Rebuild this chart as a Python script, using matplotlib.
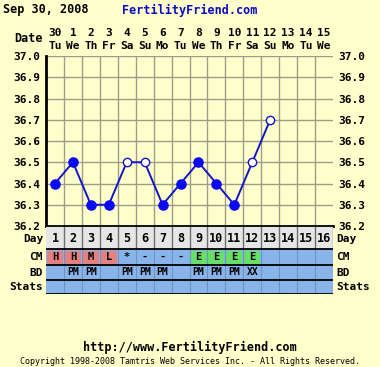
import matplotlib

matplotlib.use("Agg")
import matplotlib.pyplot as plt
from matplotlib.patches import Rectangle
from matplotlib.transforms import blended_transform_factory

plt.rcParams["font.family"] = ["DejaVu Sans Mono", "DejaVu Sans"]

W, H = 380, 367
BG = "#ffffcc"
BLUE_ROW = "#88b4ea"
GRID = "#a09c8c"
FS = 8

# chart data
days = list(range(1, 17))
dates = ["30", "1", "2", "3", "4", "5", "6", "7", "8", "9", "10", "11", "12", "13", "14", "15"]
weekdays = ["Tu", "We", "Th", "Fr", "Sa", "Su", "Mo", "Tu", "We", "Th", "Fr", "Sa", "Su", "Mo", "Tu", "We"]
temp_days = [1, 2, 3, 4, 5, 6, 7, 8, 9, 10, 11, 12, 13]
temps = [36.4, 36.5, 36.3, 36.3, 36.5, 36.5, 36.3, 36.4, 36.5, 36.4, 36.3, 36.5, 36.7]
open_marker = [False, False, False, False, True, True, False, False, False, False, False, True, True]
cm = ["H", "H", "M", "L", "*", "-", "-", "-", "E", "E", "E", "E", "", "", "", ""]
bd = ["", "PM", "PM", "", "PM", "PM", "PM", "", "PM", "PM", "PM", "XX", "", "", "", ""]
yticks = [36.2, 36.3, 36.4, 36.5, 36.6, 36.7, 36.8, 36.9, 37.0]

CM_COLORS = {"H": "#e48080", "M": "#e48080", "L": "#e48080", "E": "#66e066"}


def fx(px):
    return px / W


def fy(py):
    return 1 - py / H


fig = plt.figure(figsize=(W / 100, H / 100), dpi=100)
fig.patch.set_facecolor(BG)

# ---- temperature chart ----
ax = fig.add_axes([fx(46), fy(226), 287 / W, 170 / H])
ax.set_facecolor(BG)
ax.set_xlim(0.5, 16.5)
ax.set_ylim(36.2, 37.0)
for x in range(1, 16):
    ax.axvline(x + 0.5, color=GRID, lw=1, zorder=1)
for y in yticks[1:]:
    ax.axhline(y, color=GRID, lw=1, zorder=1)

ax.plot(temp_days, temps, color="#1414c8", lw=1.4, zorder=3)
for d, t, o in zip(temp_days, temps, open_marker):
    if o:
        ax.plot(d, t, "o", ms=6, mfc="white", mec="#1414c8", mew=1.0, zorder=4)
    else:
        ax.plot(d, t, "o", ms=6.6, mfc="#0a0af0", mec="#0a0af0", zorder=4)

ax.set_xticks([])
ax.set_yticks(yticks)
ax.set_yticklabels([f"{v:.1f}" for v in yticks])
ax.tick_params(axis="y", length=0, pad=4, labelsize=FS, labelleft=True, labelright=True)
for lab in ax.get_yticklabels():
    lab.set_fontweight("bold")
ax.spines["left"].set_color("black")
ax.spines["left"].set_linewidth(2)
ax.spines["bottom"].set_color("black")
ax.spines["bottom"].set_linewidth(2)
ax.spines["top"].set_visible(False)
ax.spines["right"].set_visible(False)

# header dates
tr = blended_transform_factory(ax.transData, fig.transFigure)
for d, num, wd in zip(days, dates, weekdays):
    ax.text(d, fy(33), num, transform=tr, ha="center", va="center",
            fontsize=FS, fontweight="bold")
    ax.text(d, fy(46), wd, transform=tr, ha="center", va="center",
            fontsize=FS, fontweight="bold")
fig.text(fx(43), fy(39), "Date", ha="right", va="center", fontsize=FS + 0.5, fontweight="bold")
fig.text(fx(3), fy(10), "Sep 30, 2008", ha="left", va="center", fontsize=8.5, fontweight="bold")
fig.text(fx(122), fy(10), "FertilityFriend.com", ha="left", va="center", fontsize=8.5,
         fontweight="bold", color="#0a0ac8")

# ---- table below ----
tab = fig.add_axes([fx(46), fy(294), 287 / W, 68 / H])
tab.set_xlim(0.5, 16.5)
tab.set_ylim(68, 0)
tab.axis("off")

rows = [("Day", 0, 23), ("CM", 23, 38.5), ("BD", 38.5, 53.5), ("Stats", 53.5, 68)]
tab.add_patch(Rectangle((0.5, 0), 16, 23, fc="#e6e6e6", ec="none"))
tab.add_patch(Rectangle((0.5, 23), 16, 45, fc=BLUE_ROW, ec="none"))
for d in days:
    tab.plot([d + 0.5, d + 0.5], [0, 23], color="#707070", lw=1)
    tab.plot([d + 0.5, d + 0.5], [23, 68], color="#6a94c8", lw=0.8)
for d, c in zip(days, cm):
    if c in CM_COLORS:
        tab.add_patch(Rectangle((d - 0.45, 24.5), 0.9, 13, fc=CM_COLORS[c], ec="none"))
for y in [0, 23, 38.5, 53.5, 68]:
    tab.plot([0.5, 16.5], [y, y], color="black", lw=1.3)

for d in days:
    tab.text(d, 13, str(d), ha="center", va="center", fontsize=FS + 0.5, fontweight="bold")
for d, c in zip(days, cm):
    if c:
        tab.text(d, 31, c, ha="center", va="center", fontsize=7.5, fontweight="bold")
for d, b in zip(days, bd):
    if b:
        tab.text(d, 46, b, ha="center", va="center", fontsize=7, fontweight="bold")

tr2 = blended_transform_factory(fig.transFigure, tab.transData)
for name, y0, y1 in rows:
    yc = (y0 + y1) / 2 + (2 if name == "Day" else 0.5)
    tab.text(fx(43), yc, name, transform=tr2, ha="right", va="center",
             fontsize=FS, fontweight="bold")
    tab.text(fx(336), yc, name, transform=tr2, ha="left", va="center",
             fontsize=FS, fontweight="bold")

# footer
fig.text(0.5, fy(347), "http://www.FertilityFriend.com", ha="center", va="center",
         fontsize=8.5, fontweight="bold")
fig.text(0.5, fy(362), "Copyright 1998-2008 Tamtris Web Services Inc. - All Rights Reserved.",
         ha="center", va="center", fontsize=6.0)

fig.savefig("out.png", dpi=100, facecolor=BG)
